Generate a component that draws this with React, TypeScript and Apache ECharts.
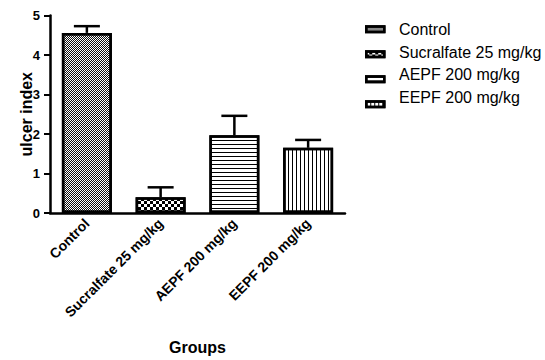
import React, { useEffect, useRef } from "react";
import * as echarts from "echarts";

const categories = ["Control", "Sucralfate 25 mg/kg", "AEPF 200 mg/kg", "EEPF 200 mg/kg"];
const means = [4.56, 0.4, 1.97, 1.65];
const errors = [0.17, 0.25, 0.49, 0.2];
const yTicks = [0, 1, 2, 3, 4, 5];

const FONT = "Arial";

const decals: any[] = [
  { symbol: "rect", color: "#111", backgroundColor: "#fff", dashArrayX: [[1, 1], [0, 1, 1, 0]], dashArrayY: [1, 0], symbolSize: 1 },
  { symbol: "rect", color: "#000", backgroundColor: "#fff", dashArrayX: [[3, 3], [0, 3, 3, 0]], dashArrayY: [3, 0], symbolSize: 1 },
  { symbol: "rect", color: "#000", backgroundColor: "#fff", dashArrayX: [10, 0], dashArrayY: [1, 3], symbolSize: 1 },
  { symbol: "rect", color: "#000", backgroundColor: "#fff", dashArrayX: [1, 3], dashArrayY: [10, 0], symbolSize: 1 },
];

export default function App() {
  const ref = useRef<HTMLDivElement>(null);
  useEffect(() => {
    document.body.style.margin = "0";
    const chart = echarts.init(ref.current!, null, { renderer: "svg" });
    const barSeries = categories.map((name, k) => ({
      name,
      type: "bar",
      barWidth: 50,
      barGap: "-100%",
      data: categories.map((_, i) => (i === k ? means[i] : "-")),
      itemStyle: {
        color: "#fff",
        borderColor: "#000",
        borderWidth: 2.5,
        decal: decals[k],
      },
      z: 2,
    }));
    const errData = categories.map((_, i) => [i, means[i], errors[i]]);
    const legendTexts = categories.map((name, i) => ({
      type: "text",
      left: 399,
      top: 21.5 + i * 22.5,
      style: { text: name, font: "16px Arial", fill: "#000" },
    }));
    chart.setOption({
      animation: false,
      textStyle: { fontFamily: FONT },
      grid: { left: 50, right: 200, top: 15.5, bottom: 147 },
      legend: {
        data: categories,
        orient: "vertical",
        left: 360,
        top: 20.25,
        padding: 5,
        icon: "rect",
        itemWidth: 18,
        itemHeight: 5.5,
        itemGap: 17,
        formatter: () => "",
        textStyle: { fontSize: 4, lineHeight: 4, color: "#000" },
        itemStyle: { borderWidth: 2.5, borderColor: "#000" },
        selectedMode: false,
      },
      graphic: legendTexts,
      xAxis: {
        type: "category",
        data: categories,
        name: "Groups",
        nameLocation: "middle",
        nameGap: 126,
        nameMoveOverlap: false,
        nameTextStyle: { fontSize: 16, fontWeight: "bold", color: "#000", fontFamily: FONT },
        axisLine: { lineStyle: { color: "#000", width: 2.5 } },
        axisTick: { alignWithLabel: true, length: 5, lineStyle: { color: "#000", width: 2 } },
        axisLabel: { rotate: 45, fontSize: 14, fontWeight: "bold", color: "#000", margin: 8, interval: 0, fontFamily: FONT },
      },
      yAxis: {
        type: "value",
        min: yTicks[0],
        max: yTicks[yTicks.length - 1],
        interval: 1,
        name: "ulcer index",
        nameLocation: "middle",
        nameGap: 16,
        nameMoveOverlap: false,
        nameTextStyle: { fontSize: 16, fontWeight: "bold", color: "#000", fontFamily: FONT },
        axisLine: { show: true, lineStyle: { color: "#000", width: 2.5 } },
        axisTick: { show: true, length: 6, lineStyle: { color: "#000", width: 2 } },
        axisLabel: { fontSize: 13, fontWeight: "bold", color: "#000", margin: 10, fontFamily: FONT },
        splitLine: { show: false },
      },
      series: [
        ...barSeries,
        {
          name: "error",
          type: "custom",
          data: errData,
          encode: { x: 0, y: 1 },
          z: 3,
          renderItem: (params: any, api: any) => {
            const x = api.value(0);
            const m = api.value(1);
            const e = api.value(2);
            const base = api.coord([x, m]);
            const top = api.coord([x, m + e]);
            const half = 13;
            const style = { stroke: "#000", lineWidth: 2.5 };
            return {
              type: "group",
              children: [
                { type: "line", shape: { x1: base[0], y1: base[1], x2: top[0], y2: top[1] }, style },
                { type: "line", shape: { x1: top[0] - half, y1: top[1], x2: top[0] + half, y2: top[1] }, style },
              ],
            };
          },
        },
      ],
    });
    return () => chart.dispose();
  }, []);
  return <div ref={ref} style={{ width: 545, height: 360 }} />;
}
